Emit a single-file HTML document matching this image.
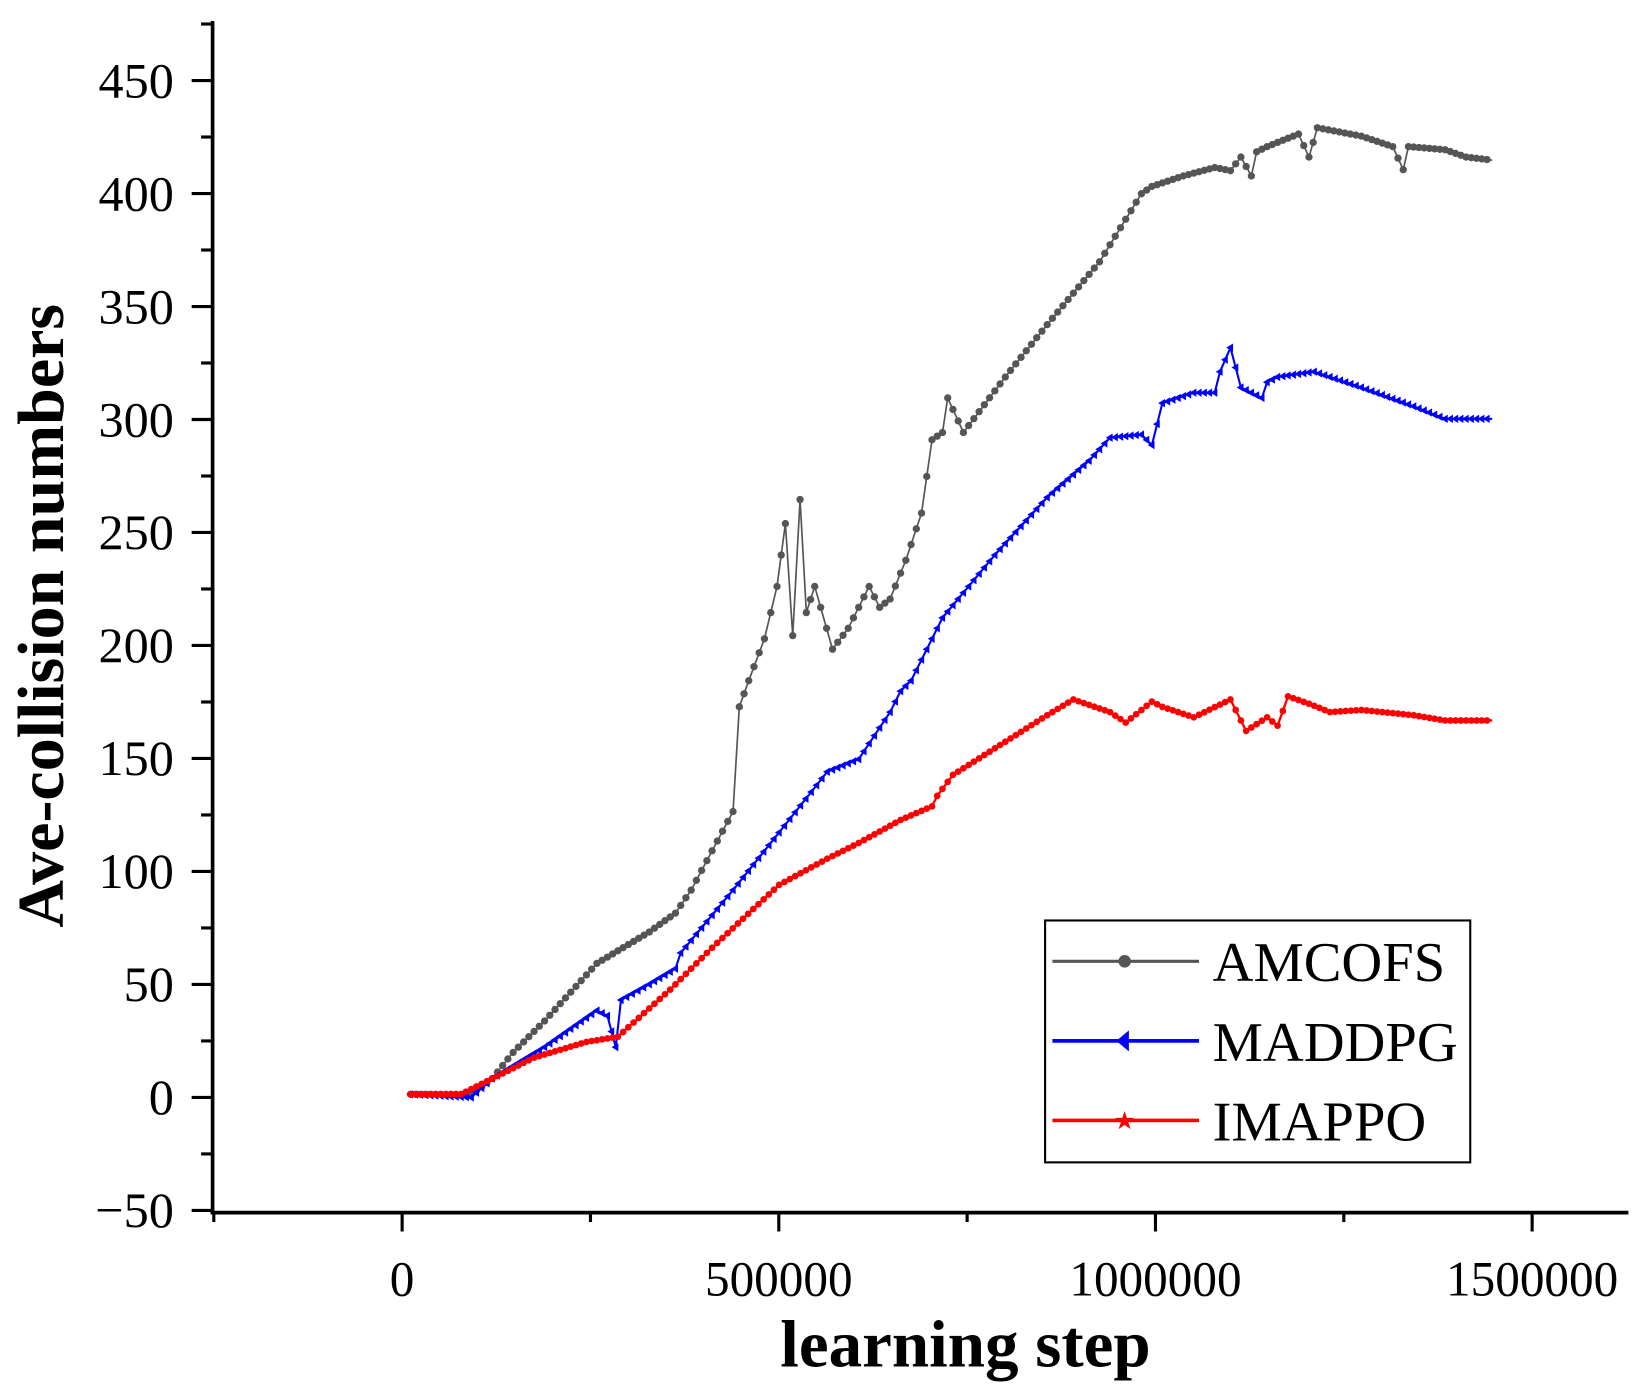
<!DOCTYPE html>
<html><head><meta charset="utf-8"><style>html,body{margin:0;padding:0;background:#fff}svg{display:block}</style></head>
<body>
<svg id="s" width="1642" height="1394" viewBox="0 0 1568 1331.2" xmlns="http://www.w3.org/2000/svg" font-family="Liberation Serif, serif">
<rect width="1568" height="1332" fill="#fff"/>
<g id="axes" stroke="#000" stroke-width="3.5" fill="none">
<line x1="203" y1="20" x2="203" y2="1159"/>
<line x1="201" y1="1158" x2="1555" y2="1158"/>
</g>
<g id="ticks" stroke="#000" stroke-width="3"></g>
<g id="labels" font-size="48" fill="#000"></g>
<g id="series"></g>
<text x="922" y="1305" font-size="64" font-weight="bold" text-anchor="middle">learning step</text>
<text transform="translate(60,588) rotate(-90)" font-size="63" font-weight="bold" text-anchor="middle">Ave-collision numbers</text>
<rect x="998" y="879" width="406" height="231" fill="#fff" stroke="#000" stroke-width="2"/>
<line x1="1005" y1="918" x2="1145" y2="918" stroke="#555" stroke-width="3"/>
<circle cx="1074" cy="918" r="6" fill="#555"/>
<line x1="1005" y1="994" x2="1145" y2="994" stroke="#00f" stroke-width="3.5"/>
<polygon points="1066,994 1078,984 1078,1004" fill="#00f"/>
<line x1="1005" y1="1070" x2="1145" y2="1070" stroke="#f00" stroke-width="3.5"/>
<text x="1074" y="1078" font-size="24" fill="#f00" text-anchor="middle">★</text>
<text x="1158" y="937" font-size="54">AMCOFS</text>
<text x="1158" y="1013" font-size="54">MADDPG</text>
<text x="1158" y="1089" font-size="54">IMAPPO</text>
</svg>
<script>
var NS="http://www.w3.org/2000/svg";
function el(p,t,a,txt){var e=document.createElementNS(NS,t);for(var k in a)e.setAttribute(k,a[k]);if(txt!==undefined)e.textContent=txt;p.appendChild(e);return e;}
var T=document.getElementById('ticks'),L=document.getElementById('labels'),S=document.getElementById('series');
function Y(v){return 1048-(v/50)*107.9;}
for(var v=-50;v<=475;v+=25){var y=Y(v);var maj=(v%50===0);el(T,'line',{x1:203,x2:maj?183:192,y1:y,y2:y});
 if(maj)el(L,'text',{x:166,y:y+16,'text-anchor':'end'},(v<0?'\u2212'+(-v):v));}
function X(v){return 384+v/500000*359.7;}
for(var v=-250000;v<=1600000;v+=250000){var x=X(v);if(x<203)continue;var maj=(v%500000===0);el(T,'line',{x1:x,x2:x,y1:1158,y2:maj?1176:1167});
 if(maj)el(L,'text',{x:x,y:1237,'text-anchor':'middle','font-size':47},v);}
var A=[[392,1045],[450,1045],[470,1030],[490,1005],[520,975],[570,920],[590,908],[620,890],[645,872],[660,850],[700,775],[706,675],[715,650],[730,610],[742,560],[750,500],[757,607],[764,477],[770,585],[778,560],[795,620],[810,600],[830,560],[840,580],[850,572],[865,535],[880,490],[890,420],[900,413],[905,380],[920,413],[960,360],[1000,310],[1050,250],[1090,185],[1100,178],[1130,168],[1160,160],[1175,163],[1185,150],[1195,168],[1200,145],[1210,140],[1240,128],[1250,150],[1258,122],[1300,130],[1330,140],[1340,162],[1345,140],[1380,143],[1400,150],[1425,153]];
var M=[[392,1045],[450,1048],[470,1030],[520,1000],[570,965],[580,970],[588,1000],[593,955],[620,940],[645,925],[650,910],[700,850],[744,795],[790,737],[820,725],[850,680],[860,660],[870,650],[900,590],[950,530],[1000,475],[1040,440],[1060,418],[1090,415],[1100,425],[1110,385],[1140,375],[1160,375],[1165,355],[1175,332],[1185,370],[1205,380],[1210,365],[1220,360],[1255,355],[1300,370],[1350,388],[1380,400],[1425,400]];
var I=[[392,1045],[440,1045],[470,1030],[510,1010],[560,995],[590,990],[640,945],[680,905],[744,845],[790,820],[820,805],[860,783],[890,770],[895,760],[910,740],[1000,683],[1025,668],[1060,680],[1075,690],[1100,670],[1110,675],[1140,685],[1175,668],[1190,698],[1210,685],[1220,693],[1230,665],[1250,672],[1270,680],[1300,678],[1350,683],[1380,688],[1425,688]];
function draw(P,c,w,mk){el(S,'polyline',{points:P.map(function(p){return p.join(',')}).join(' '),fill:'none',stroke:c,'stroke-width':w,'stroke-linejoin':'round'});
 for(var i=0;i<P.length-1;i++){var a=P[i],b=P[i+1];var n=Math.max(1,Math.round((b[0]-a[0])/5));for(var j=0;j<n;j++){var x=a[0]+(b[0]-a[0])*j/n,y=a[1]+(b[1]-a[1])*j/n;mk(x,y);}}}
draw(A,'#555',1.6,function(x,y){el(S,'circle',{cx:x,cy:y,r:3.5,fill:'#555'});});
draw(M,'#00f',2,function(x,y){el(S,'polygon',{points:(x-4)+','+y+' '+(x+2.5)+','+(y-4)+' '+(x+2.5)+','+(y+4),fill:'#00f'});});
draw(I,'#f00',2.2,function(x,y){el(S,'circle',{cx:x,cy:y,r:3.2,fill:'#f00'});});
</script>
</body></html>
